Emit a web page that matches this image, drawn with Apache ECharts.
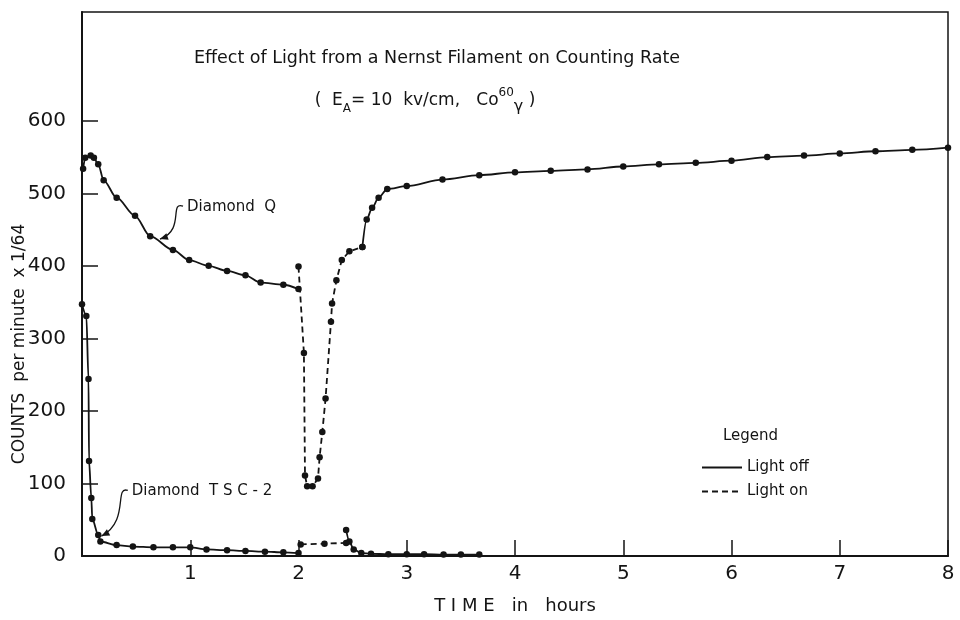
<!DOCTYPE html>
<html>
<head>
<meta charset="utf-8">
<title>Effect of Light from a Nernst Filament on Counting Rate</title>
<script src="https://cdn.jsdelivr.net/npm/echarts@6/dist/echarts.min.js"></script>
<style>
  html, body { margin: 0; background: #fff; }
  #chart { width: 960px; height: 620px; }
</style>
</head>
<body>
<div id="chart"></div>
<script>
"use strict";

/* readings off the plate: [time in hours, counts per minute x 1/64] */
// Diamond Q
const qOffBefore = [[0.01, 534], [0.03, 549], [0.08, 552], [0.11, 549], [0.15, 540], [0.20, 518],
  [0.32, 494], [0.49, 469], [0.63, 441], [0.84, 422], [0.99, 408], [1.17, 400], [1.34, 393],
  [1.51, 387], [1.65, 377], [1.86, 374], [2.0, 368]];
const qOn = [[2.0, 399], [2.05, 280], [2.06, 111], [2.08, 96], [2.13, 96], [2.18, 107], [2.195, 136],
  [2.22, 171], [2.25, 217], [2.30, 323], [2.31, 348], [2.35, 380], [2.40, 408], [2.47, 420], [2.59, 426]];
const qOffAfter = [[2.59, 426], [2.63, 464], [2.68, 480], [2.74, 494], [2.82, 506], [3.0, 510],
  [3.33, 519], [3.67, 525], [4.0, 529], [4.33, 531], [4.67, 533], [5.0, 537], [5.33, 540],
  [5.67, 542], [6.0, 545], [6.33, 550], [6.67, 552], [7.0, 555], [7.33, 558], [7.67, 560], [8.0, 563]];
// Diamond TSC-2
const tscOffBefore = [[0.0, 347], [0.04, 331], [0.06, 244], [0.065, 131], [0.086, 80], [0.095, 51],
  [0.15, 29], [0.17, 20], [0.32, 15], [0.47, 13], [0.66, 12], [0.84, 12], [1.0, 12], [1.15, 9],
  [1.34, 8], [1.51, 7], [1.69, 6], [1.86, 5], [2.0, 4]];
const tscOn = [[2.02, 16], [2.24, 17], [2.44, 18]];
const tscOffAfter = [[2.44, 36], [2.47, 20], [2.51, 9], [2.58, 4], [2.67, 3], [2.83, 2.5], [3.0, 2.5],
  [3.16, 2.5], [3.34, 2], [3.5, 2], [3.67, 2]];

const xTicks = [1, 2, 3, 4, 5, 6, 7, 8];
const yLabels = [0, 100, 200, 300, 400, 500, 600];
const yTicks = [100, 200, 300, 400, 500, 600];

// hand lettered callouts: where the text starts and where the arrow lands
const callouts = [
  { text: "Diamond  Q", at: [0.97, 481], tip: [0.72, 437] },
  { text: "Diamond  T S C - 2", at: [0.46, 89], tip: [0.18, 27.5] }
];

const INK = "#141414";
const FONT = "DejaVu Sans";

function curve(name, data, dashed) {
  return {
    type: "line", name, data,
    smooth: dashed ? false : 0.3, smoothMonotone: "x",
    symbol: "circle", symbolSize: 6.5, showAllSymbol: true,
    itemStyle: { color: INK },
    lineStyle: { color: INK, width: 1.8, type: dashed ? [6, 4] : "solid" },
    emphasis: { disabled: true }
  };
}

const chart = echarts.init(document.getElementById("chart"), null, { renderer: "canvas" });
chart.setOption({
  animation: false,
  textStyle: { fontFamily: FONT, color: INK },
  grid: { left: 82, right: 12, top: 12, bottom: 62, show: true, borderColor: INK, borderWidth: 1.5 },
  title: [
    { text: "Effect of Light from a Nernst Filament on Counting Rate", left: 432, top: 44, textAlign: "center",
      textStyle: { fontFamily: FONT, fontSize: 17.5, fontWeight: "normal", color: INK } },
    { text: "(  E{s|A}= 10  kv/cm,   Co{p|60}{g|γ} )", left: 420, top: 82, textAlign: "center",
      textStyle: { fontFamily: FONT, fontSize: 17, lineHeight: 28, fontWeight: "normal", color: INK,
        rich: {
          s: { fontSize: 12, verticalAlign: "bottom", lineHeight: 12, color: INK },
          p: { fontSize: 12, verticalAlign: "top", lineHeight: 12, color: INK },
          g: { fontSize: 16, verticalAlign: "bottom", lineHeight: 18, color: INK }
        } } },
    { text: "Legend", left: 718, top: 424,
      textStyle: { fontFamily: FONT, fontSize: 15, fontWeight: "normal", color: INK } }
  ],
  legend: {
    left: 696, top: 455, orient: "vertical", itemWidth: 40, itemHeight: 10, itemGap: 9,
    data: ["Light off", "Light on"], selectedMode: false,
    itemStyle: { opacity: 0 },
    textStyle: { fontFamily: FONT, fontSize: 15, color: INK }
  },
  xAxis: {
    type: "value", min: 0, max: 8, interval: 1,
    name: "T I M E   in   hours", nameLocation: "middle", nameGap: 41,
    nameTextStyle: { fontFamily: FONT, fontSize: 18, color: INK },
    axisLine: { onZero: false, lineStyle: { color: INK, width: 2 } },
    axisTick: { inside: true, length: 16, customValues: xTicks, lineStyle: { color: INK, width: 1.5 } },
    axisLabel: { customValues: xTicks, fontSize: 20, margin: 8, color: INK },
    splitLine: { show: false }
  },
  yAxis: {
    type: "value", min: 0, max: 750, interval: 100,
    axisLine: { show: true, lineStyle: { color: INK, width: 2 } },
    axisTick: { show: true, inside: true, length: 16, customValues: yTicks, lineStyle: { color: INK, width: 1.5 } },
    axisLabel: { customValues: yLabels, fontSize: 20, margin: 16, color: INK },
    splitLine: { show: false }
  },
  series: [
    curve("Light off", qOffBefore, false),
    curve("Light on", qOn, true),
    curve("Light off", qOffAfter, false),
    curve("Light off", tscOffBefore, false),
    curve("Light on", tscOn, true),
    curve("Light off", tscOffAfter, false)
  ]
});

/* lettering that sits outside the axes, plus the curly callout arrows */
const graphics = [{
  type: "text", x: 20, y: 344, rotation: Math.PI / 2,
  style: { text: "COUNTS  per minute  x 1/64", fontFamily: FONT, fontSize: 17, fill: INK,
           align: "center", verticalAlign: "middle" }
}];
for (const c of callouts) {
  const [tx, ty] = chart.convertToPixel({ gridIndex: 0 }, c.at);
  const [px, py] = chart.convertToPixel({ gridIndex: 0 }, c.tip);
  const sx = tx - 4, sy = ty - 1;
  const cp2 = [sx + 2, (sy + py) / 2 + 8];
  graphics.push({
    type: "text", x: tx, y: ty,
    style: { text: c.text, fontFamily: FONT, fontSize: 15, fill: INK, verticalAlign: "middle" }
  });
  graphics.push({
    type: "bezierCurve",
    shape: { x1: sx, y1: sy, cpx1: sx - 14, cpy1: sy - 5, cpx2: cp2[0], cpy2: cp2[1], x2: px, y2: py },
    style: { stroke: INK, lineWidth: 1.3, fill: null }
  });
  const ang = Math.atan2(py - cp2[1], px - cp2[0]);
  const L = 8, W = 3.5;
  const bx = px - L * Math.cos(ang), by = py - L * Math.sin(ang);
  graphics.push({
    type: "polygon",
    shape: { points: [[px, py],
      [bx - W * Math.sin(ang), by + W * Math.cos(ang)],
      [bx + W * Math.sin(ang), by - W * Math.cos(ang)]] },
    style: { fill: INK }
  });
}
chart.setOption({ graphic: graphics });
</script>
</body>
</html>
